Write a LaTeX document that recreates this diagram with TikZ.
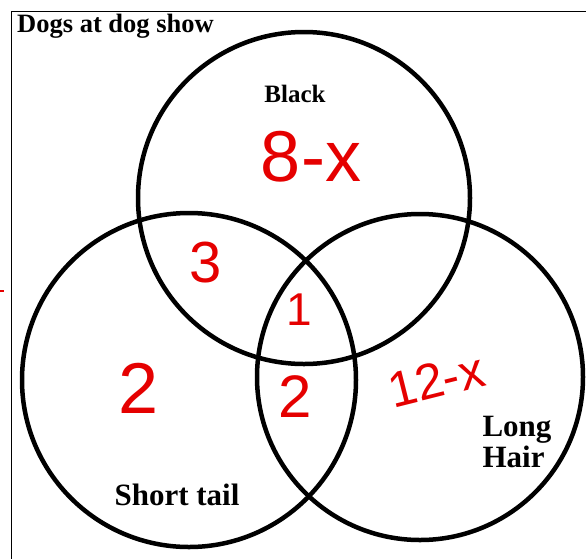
\documentclass[tikz,border=0pt]{standalone}
\usepackage{fontspec}
\setmainfont{Liberation Serif}
\newfontfamily\handfont{Liberation Sans}
\usetikzlibrary{positioning}

\begin{document}
\begin{tikzpicture}[
  x=1pt, y=-1pt,
  ring/.style={circle, draw=black, line width=4.5pt, inner sep=0pt, minimum size=#1},
  lbl/.style={inner sep=0pt, font=\bfseries\fontsize{#1}{#1}\selectfont},
  num/.style={inner sep=0pt, text=red!90!black, font=\handfont\fontsize{#1}{#1}\selectfont}
]
\useasboundingbox (0,0) rectangle (586,558);
\clip (0,0) rectangle (586,558);
\fill[white] (0,0) rectangle (586,558);

% frame and title
\node[draw=black, line width=1.5pt, minimum width=600pt, minimum height=570pt, anchor=north west] (frame) at (10.5,10.5) {};
\node[lbl=26.5, anchor=base west] (title) at (17,32) {Dogs at dog show};

% the three sets
\node[ring=332pt] (black) at (304,198) {};
\node[ring=334pt] (tail)  at (189,380) {};
\node[ring=326pt] (hair)  at (420,377) {};

\node[lbl=25, anchor=base] (blacklbl) at (295,102) {Black};
\node[lbl=31, anchor=base] (taillbl)  at (177,505) {Short tail};
\node[lbl=31, align=left, anchor=center] (hairlbl) at (517,442) {\baselineskip=35pt Long\\Hair};

% counts
\node[num=72] (onlyblack) at (311,157) {8-x};
\node[num=58] (blacktail) at (206,263) {3};
\node[num=46] (all)       at (299,310) {1};
\node[num=72] (onlytail)  at (139,388) {2};
\node[num=60] (tailhair)  at (295,397) {2};
\node[num=50, rotate=14] (onlyhair) at (436,380) {12-x};

% stray mark
\draw[red!90!black, line width=2pt] (0,291) -- (4,291);
\end{tikzpicture}
\end{document}
